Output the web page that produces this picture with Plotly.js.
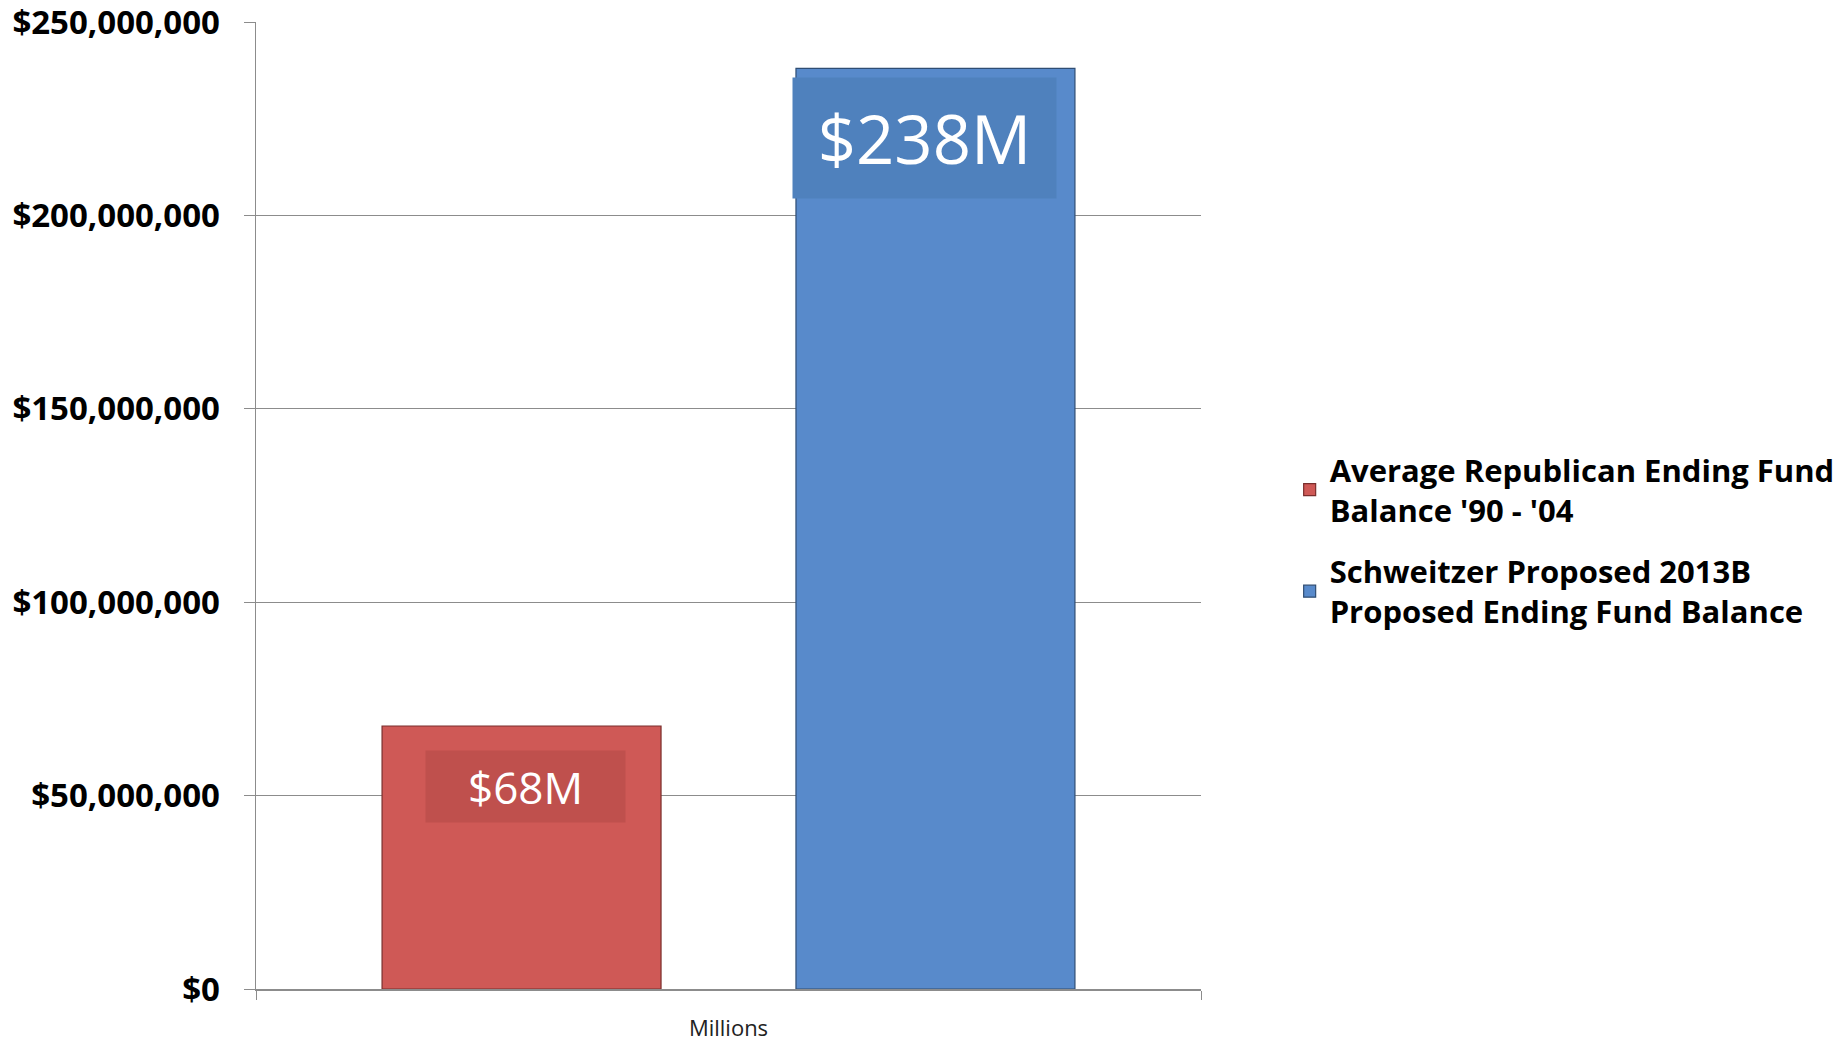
<!DOCTYPE html>
<html>
<head>
<meta charset="utf-8">
<script src="https://cdn.plot.ly/plotly-3.0.1.min.js"></script>
<style>html,body{margin:0;padding:0;background:#fff;}#chart{width:1845px;height:1044px;}</style>
</head>
<body>
<div id="chart"></div>
<script>
// ---- data ----
const categories = ["Millions"];
const seriesNames = [
  "Average Republican Ending Fund<br>Balance '90 - '04",
  "Schweitzer Proposed 2013B<br>Proposed Ending Fund Balance"
];
const republicanValues = [68000000];
const schweitzerValues = [238000000];
const yTickValues = [0, 50000000, 100000000, 150000000, 200000000, 250000000];

const redFill = "#CF5956", redBox = "#BF504D", redEdge = "#7A2E2C";
const blueFill = "#588ACB", blueBox = "#4F81BD", blueEdge = "#2F4D73";
const labelText = v => "$" + Math.round(v / 1e6) + "M";

const traces = [
  { type: "bar", name: seriesNames[0], x: categories, y: republicanValues,
    legendgroup: "a",
    marker: { color: redFill, line: { color: redEdge, width: 1.2 } }, hoverinfo: "skip" },
  { type: "bar", name: seriesNames[1], x: categories, y: schweitzerValues,
    legendgroup: "b",
    marker: { color: blueFill, line: { color: blueEdge, width: 1.2 } }, hoverinfo: "skip" }
];

const annotations = [
  { x: categories[0], y: republicanValues[0], xref: "x", yref: "y",
    text: labelText(republicanValues[0]), showarrow: false,
    xshift: -203, yshift: -24, yanchor: "top",
    width: 197, height: 69, bgcolor: redBox, align: "center", valign: "middle",
    font: { family: "Open Sans", size: 44, color: "#ffffff" } },
  { x: categories[0], y: schweitzerValues[0], xref: "x", yref: "y",
    text: labelText(schweitzerValues[0]), showarrow: false,
    xshift: 196, yshift: -9, yanchor: "top",
    width: 261, height: 118, bgcolor: blueBox, align: "center", valign: "middle",
    font: { family: "Open Sans", size: 67, color: "#ffffff" } }
];

const layout = {
  width: 1845, height: 1044,
  margin: { l: 256, r: 644, t: 22, b: 55, pad: 0, autoexpand: false },
  paper_bgcolor: "#ffffff", plot_bgcolor: "#ffffff",
  barmode: "group", bargap: 0.124, bargroupgap: 0.326,
  showlegend: true,
  legend: { xref: "container", yref: "container", x: 0.699, y: 0.482,
    xanchor: "left", yanchor: "middle",
    traceorder: "grouped", tracegroupgap: 18,
    font: { family: "Open Sans", size: 31, color: "#000", weight: "bold" },
    bgcolor: "rgba(0,0,0,0)" },
  xaxis: { type: "category", tickson: "boundaries", ticks: "outside", ticklen: 9,
    tickcolor: "#8c8c8c", showline: true, linecolor: "#8c8c8c", linewidth: 1.5,
    showgrid: false, tickfont: { family: "Open Sans", size: 22, color: "#222" },
    ticklabelstandoff: 19, fixedrange: true, automargin: false },
  yaxis: { range: [0, 250000000], tickvals: yTickValues, tickformat: "$,.0f",
    ticks: "outside", ticklen: 11, tickcolor: "#8c8c8c",
    showline: true, linecolor: "#8c8c8c", linewidth: 1.5,
    showgrid: true, gridcolor: "#8c8c8c", gridwidth: 1.2, zeroline: false,
    tickfont: { family: "Open Sans", size: 33, color: "#000", weight: "bold" },
    ticklabelstandoff: 17, ticklabeloverflow: "allow", fixedrange: true, automargin: false },
  annotations: annotations
};

Plotly.newPlot("chart", traces, layout, { displayModeBar: false, staticPlot: true });
</script>
</body>
</html>
